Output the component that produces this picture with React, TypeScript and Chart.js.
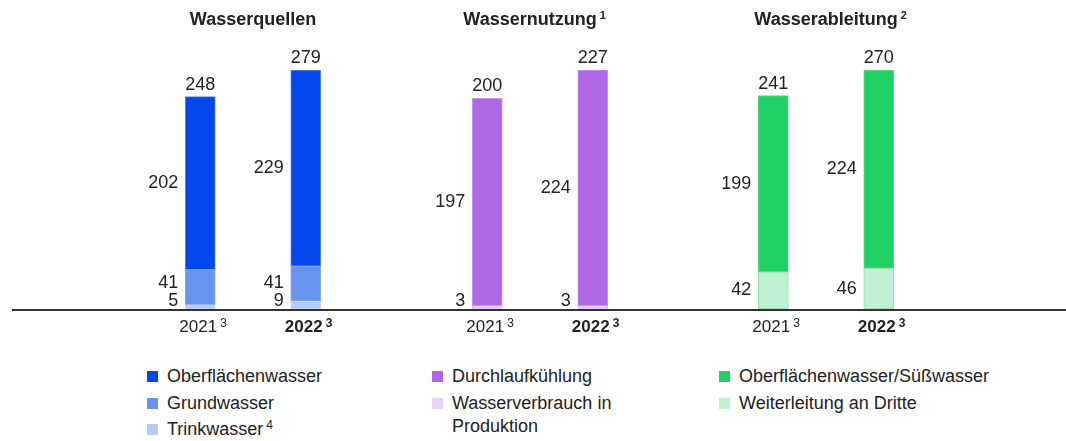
import React, { useEffect, useRef } from "react";
import { Chart, registerables } from "chart.js";

Chart.register(...registerables);

// ---- data ----
const years = ["2021", "2022"];
const yearNotes = ["3", "3"];

const quellenTrinkwasser = [5, 9];
const quellenGrundwasser = [41, 41];
const quellenOberflaechenwasser = [202, 229];

const nutzungProduktion = [3, 3];
const nutzungDurchlaufkuehlung = [197, 224];

const ableitungDritte = [42, 46];
const ableitungSuesswasser = [199, 224];

const groupTitles = ["Wasserquellen", "Wassernutzung", "Wasserableitung"];
const groupTitleNotes = ["", "1", "2"];

// ---- styles ----
const FONT = "'Liberation Sans', Arial, Helvetica, sans-serif";
const TEXT = "#222222";

const C_OBER = "#0448EB";
const C_GRUND = "#6894EF";
const C_TRINK = "#B3CBF6";
const C_DURCH = "#B067E6";
const C_PROD = "#E7D4F6";
const C_GREEN = "#1FD162";
const C_LGREEN = "#BDF1D2";

type Seg = { label: string; data: number[]; color: string; border: string };

const groups: { title: string; note: string; segs: Seg[]; titleShift: number; center: number }[] = [
  {
    title: groupTitles[0],
    note: groupTitleNotes[0],
    titleShift: 0,
    center: 253.4,
    segs: [
      { label: "Trinkwasser", data: quellenTrinkwasser, color: C_TRINK, border: "#C9DAF8" },
      { label: "Grundwasser", data: quellenGrundwasser, color: C_GRUND, border: "#86A9F2" },
      { label: "Oberflächenwasser", data: quellenOberflaechenwasser, color: C_OBER, border: "#5A84EE" },
    ],
  },
  {
    title: groupTitles[1],
    note: groupTitleNotes[1],
    titleShift: -10,
    center: 539.8,
    segs: [
      { label: "Wasserverbrauch in Produktion", data: nutzungProduktion, color: C_PROD, border: "#D9C0EE" },
      { label: "Durchlaufkühlung", data: nutzungDurchlaufkuehlung, color: C_DURCH, border: "#C597EC" },
    ],
  },
  {
    title: groupTitles[2],
    note: groupTitleNotes[2],
    titleShift: 0,
    center: 826.4,
    segs: [
      { label: "Weiterleitung an Dritte", data: ableitungDritte, color: C_LGREEN, border: "#9ED8B5" },
      { label: "Oberflächenwasser/Süßwasser", data: ableitungSuesswasser, color: C_GREEN, border: "#5ADB8A" },
    ],
  },
];

const legendCols = [
  [
    { label: "Oberflächenwasser", color: C_OBER, note: "" },
    { label: "Grundwasser", color: C_GRUND, note: "" },
    { label: "Trinkwasser", color: C_TRINK, note: "4" },
  ],
  [
    { label: "Durchlaufkühlung", color: C_DURCH, note: "" },
    { label: "Wasserverbrauch in Produktion", color: C_PROD, note: "" },
  ],
  [
    { label: "Oberflächenwasser/Süßwasser", color: C_GREEN, note: "" },
    { label: "Weiterleitung an Dritte", color: C_LGREEN, note: "" },
  ],
];

const CANVAS_W = 286;
const CANVAS_H = 345;
const BASE_Y = 309;
const TOP_Y = 70;

const labelPlugin = {
  id: "waterLabels",
  afterDatasetsDraw(chart: any, _args: any, opts: any) {
    const ctx = chart.ctx;
    const area = chart.chartArea;
    ctx.save();
    ctx.fillStyle = TEXT;
    const n = chart.data.labels.length;
    for (let i = 0; i < n; i++) {
      let prevY = Infinity;
      let topY = Infinity;
      let cx = 0;
      chart.data.datasets.forEach((ds: any, di: number) => {
        const v = ds.data[i];
        if (v == null) return;
        const el = chart.getDatasetMeta(di).data[i];
        const p = el.getProps(["x", "y", "base", "width"], true);
        cx = p.x;
        const center = (p.y + p.base) / 2;
        const ly = Math.min(center, area.bottom - 8, prevY - 18);
        prevY = ly;
        topY = Math.min(topY, p.y);
        ctx.font = `18px ${FONT}`;
        ctx.textAlign = "right";
        ctx.textBaseline = "middle";
        ctx.fillText(String(v), p.x - p.width / 2 - 7, ly);
      });
      // total
      const total = chart.data.datasets.reduce((s: number, ds: any) => s + (ds.data[i] || 0), 0);
      ctx.font = `18px ${FONT}`;
      ctx.textAlign = "center";
      ctx.textBaseline = "alphabetic";
      ctx.fillText(String(total), cx, topY - 7);
      // year label
      const bold = i === n - 1;
      const mainFont = `${bold ? "bold " : ""}17px ${FONT}`;
      const supFont = `${bold ? "bold " : ""}12px ${FONT}`;
      ctx.font = mainFont;
      const yl = chart.data.labels[i];
      const w = ctx.measureText(yl).width;
      const mainX = cx - 2 - w / 2;
      ctx.textAlign = "left";
      ctx.fillText(yl, mainX, 332);
      ctx.font = supFont;
      ctx.fillText(opts.yearNotes[i], mainX + w + 3, 327);
    }
    // title
    ctx.font = `bold 18px ${FONT}`;
    const tw = ctx.measureText(opts.title).width;
    const tcx = chart.width / 2 + opts.titleShift;
    const tx = tcx - tw / 2;
    ctx.textAlign = "left";
    ctx.textBaseline = "alphabetic";
    ctx.fillText(opts.title, tx, 25);
    if (opts.note) {
      ctx.font = `bold 11px ${FONT}`;
      ctx.fillText(opts.note, tx + tw + 3, 19);
    }
    ctx.restore();
  },
};

function GroupChart({ g }: { g: (typeof groups)[number] }) {
  const ref = useRef<HTMLCanvasElement>(null);
  useEffect(() => {
    if (!ref.current) return;
    const totals = years.map((_, i) => g.segs.reduce((s, sg) => s + sg.data[i], 0));
    const max = Math.max(...totals);
    const chart = new Chart(ref.current, {
      type: "bar",
      data: {
        labels: years,
        datasets: g.segs.map((s) => ({
          label: s.label,
          data: s.data,
          backgroundColor: s.color,
          borderColor: s.border,
          borderWidth: 1,
          borderSkipped: false,
          barThickness: 30,
        })),
      },
      options: {
        responsive: false,
        animation: false,
        devicePixelRatio: 1,
        layout: {
          padding: { left: 37.5, right: 37.5, top: TOP_Y, bottom: CANVAS_H - BASE_Y },
        },
        scales: {
          x: { type: "category", stacked: true, display: false, offset: true },
          y: { stacked: true, display: false, min: 0, max: max },
        },
        plugins: {
          legend: { display: false },
          tooltip: { enabled: false },
          waterLabels: {
            title: g.title,
            note: g.note,
            titleShift: g.titleShift,
            yearNotes: yearNotes,
          },
        } as any,
      },
      plugins: [labelPlugin],
    });
    return () => chart.destroy();
  }, [g]);
  return (
    <canvas
      ref={ref}
      width={CANVAS_W}
      height={CANVAS_H}
      style={{
        position: "absolute",
        left: g.center - CANVAS_W / 2,
        top: 0,
        width: CANVAS_W,
        height: CANVAS_H,
      }}
    />
  );
}

const legendLefts = [147, 432, 719];

export default function App() {
  return (
    <div
      style={{
        position: "absolute",
        left: 0,
        top: 0,
        width: 1066,
        height: 441,
        background: "#fff",
        overflow: "hidden",
        fontFamily: FONT,
        color: TEXT,
      }}
    >
      {groups.map((g, i) => (
        <GroupChart key={i} g={g} />
      ))}
      <div
        style={{
          position: "absolute",
          left: 12,
          top: 309,
          width: 1054,
          height: 2,
          background: "#333",
        }}
      />
      {legendCols.map((col, ci) => (
        <div key={ci} style={{ position: "absolute", left: legendLefts[ci], top: 365 }}>
          {col.map((it, ii) => (
            <div
              key={ii}
              style={{ display: "flex", alignItems: "flex-start", marginBottom: 3.5, fontSize: 18, lineHeight: "23px" }}
            >
              <span
                style={{
                  display: "inline-block",
                  width: 11,
                  height: 11,
                  background: it.color,
                  marginTop: 6,
                  marginRight: 9,
                  flex: "none",
                }}
              />
              <span style={{ maxWidth: 200 }}>
                {it.label}
                {it.note ? (
                  <sup style={{ fontSize: 12, marginLeft: 3, verticalAlign: "top", lineHeight: "14px" }}>{it.note}</sup>
                ) : null}
              </span>
            </div>
          ))}
        </div>
      ))}
    </div>
  );
}
